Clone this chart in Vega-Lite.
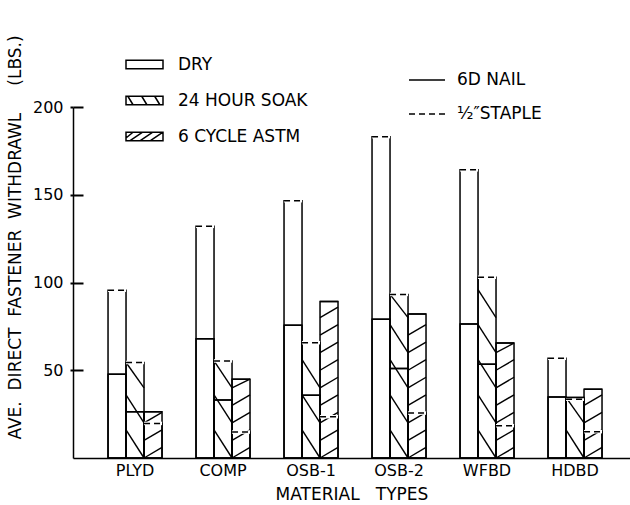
{
  "$schema": "https://vega.github.io/schema/vega-lite/v6.json",
  "width": 557,
  "height": 351,
  "autosize": "none",
  "padding": {"left": 73, "top": 107, "right": 0, "bottom": 47},
  "background": "white",
  "config": {
    "view": {"stroke": null},
    "font": "DejaVu Sans",
    "axis": {"labelColor": "black", "titleColor": "black", "domainColor": "black", "titleFontWeight": "normal", "labelFont": "DejaVu Sans", "titleFont": "DejaVu Sans"},
    "axisX": {"grid": false},
    "axisY": {"grid": true, "gridColor": "black", "gridWidth": 2, "gridDash": [10, 2000], "ticks": true, "tickColor": "black", "tickSize": 3, "tickWidth": 2},
    "legend": {"labelFont": "DejaVu Sans", "labelColor": "black"}
  },
  "datasets": {
    "bars": [
      {"m": "PLYD", "c": "DRY", "nail": 47.7, "staple": 95.6},
      {"m": "PLYD", "c": "24 HOUR SOAK", "nail": 26.3, "staple": 54.4},
      {"m": "PLYD", "c": "6 CYCLE ASTM", "nail": 26.3, "staple": 19.7},
      {"m": "COMP", "c": "DRY", "nail": 68, "staple": 132},
      {"m": "COMP", "c": "24 HOUR SOAK", "nail": 33, "staple": 55.3},
      {"m": "COMP", "c": "6 CYCLE ASTM", "nail": 44.9, "staple": 14.8},
      {"m": "OSB-1", "c": "DRY", "nail": 75.7, "staple": 146.6},
      {"m": "OSB-1", "c": "24 HOUR SOAK", "nail": 35.8, "staple": 65.7},
      {"m": "OSB-1", "c": "6 CYCLE ASTM", "nail": 89.2, "staple": 23.5},
      {"m": "OSB-2", "c": "DRY", "nail": 79, "staple": 183.1},
      {"m": "OSB-2", "c": "24 HOUR SOAK", "nail": 51, "staple": 93.2},
      {"m": "OSB-2", "c": "6 CYCLE ASTM", "nail": 82, "staple": 25.6},
      {"m": "WFBD", "c": "DRY", "nail": 76.3, "staple": 164.2},
      {"m": "WFBD", "c": "24 HOUR SOAK", "nail": 53.4, "staple": 103},
      {"m": "WFBD", "c": "6 CYCLE ASTM", "nail": 65.5, "staple": 18.4},
      {"m": "HDBD", "c": "DRY", "nail": 34.8, "staple": 56.8},
      {"m": "HDBD", "c": "24 HOUR SOAK", "nail": 34.5, "staple": 33.5},
      {"m": "HDBD", "c": "6 CYCLE ASTM", "nail": 39.2, "staple": 15}
    ],
    "edges": [
      {"c": "DRY", "l": "e0", "r": "e1"},
      {"c": "24 HOUR SOAK", "l": "e1", "r": "e2"},
      {"c": "6 CYCLE ASTM", "l": "e2", "r": "e3"}
    ],
    "hatch": [
      {"m": "PLYD", "k": "s0", "e1": 16, "e2": 0},
      {"m": "PLYD", "k": "s1", "e1": 36, "e2": 20},
      {"m": "PLYD", "k": "s2", "e1": 54.4, "e2": 40},
      {"m": "COMP", "k": "s0", "e1": 16, "e2": 0},
      {"m": "COMP", "k": "s1", "e1": 36, "e2": 20},
      {"m": "COMP", "k": "s2", "e1": 55.3, "e2": 40},
      {"m": "OSB-1", "k": "s0", "e1": 16, "e2": 0},
      {"m": "OSB-1", "k": "s1", "e1": 36, "e2": 20},
      {"m": "OSB-1", "k": "s2", "e1": 56, "e2": 40},
      {"m": "OSB-2", "k": "s0", "e1": 16, "e2": 0},
      {"m": "OSB-2", "k": "s1", "e1": 36, "e2": 20},
      {"m": "OSB-2", "k": "s2", "e1": 56, "e2": 40},
      {"m": "OSB-2", "k": "s3", "e1": 76, "e2": 60},
      {"m": "OSB-2", "k": "s4", "e1": 93.2, "e2": 80},
      {"m": "WFBD", "k": "s0", "e1": 16, "e2": 0},
      {"m": "WFBD", "k": "s1", "e1": 36, "e2": 20},
      {"m": "WFBD", "k": "s2", "e1": 56, "e2": 40},
      {"m": "WFBD", "k": "s3", "e1": 76, "e2": 60},
      {"m": "WFBD", "k": "s4", "e1": 96, "e2": 80},
      {"m": "HDBD", "k": "s0", "e1": 16, "e2": 0},
      {"m": "HDBD", "k": "s1", "e1": 34.5, "e2": 20},
      {"m": "PLYD", "k": "a0", "e2": 0, "e3": 6},
      {"m": "PLYD", "k": "a1", "e2": 10, "e3": 16},
      {"m": "PLYD", "k": "a2", "e2": 20, "e3": 26},
      {"m": "COMP", "k": "a0", "e2": 0, "e3": 6},
      {"m": "COMP", "k": "a1", "e2": 10, "e3": 16},
      {"m": "COMP", "k": "a2", "e2": 20, "e3": 26},
      {"m": "COMP", "k": "a3", "e2": 30, "e3": 36},
      {"m": "COMP", "k": "a4", "e2": 40, "e3": 44.9},
      {"m": "OSB-1", "k": "a0", "e2": 0, "e3": 6},
      {"m": "OSB-1", "k": "a1", "e2": 10, "e3": 16},
      {"m": "OSB-1", "k": "a2", "e2": 20, "e3": 26},
      {"m": "OSB-1", "k": "a3", "e2": 30, "e3": 36},
      {"m": "OSB-1", "k": "a4", "e2": 40, "e3": 46},
      {"m": "OSB-1", "k": "a5", "e2": 50, "e3": 56},
      {"m": "OSB-1", "k": "a6", "e2": 60, "e3": 66},
      {"m": "OSB-1", "k": "a7", "e2": 70, "e3": 76},
      {"m": "OSB-1", "k": "a8", "e2": 80, "e3": 86},
      {"m": "OSB-2", "k": "a0", "e2": 0, "e3": 6},
      {"m": "OSB-2", "k": "a1", "e2": 10, "e3": 16},
      {"m": "OSB-2", "k": "a2", "e2": 20, "e3": 26},
      {"m": "OSB-2", "k": "a3", "e2": 30, "e3": 36},
      {"m": "OSB-2", "k": "a4", "e2": 40, "e3": 46},
      {"m": "OSB-2", "k": "a5", "e2": 50, "e3": 56},
      {"m": "OSB-2", "k": "a6", "e2": 60, "e3": 66},
      {"m": "OSB-2", "k": "a7", "e2": 70, "e3": 76},
      {"m": "WFBD", "k": "a0", "e2": 0, "e3": 6},
      {"m": "WFBD", "k": "a1", "e2": 10, "e3": 16},
      {"m": "WFBD", "k": "a2", "e2": 20, "e3": 26},
      {"m": "WFBD", "k": "a3", "e2": 30, "e3": 36},
      {"m": "WFBD", "k": "a4", "e2": 40, "e3": 46},
      {"m": "WFBD", "k": "a5", "e2": 50, "e3": 56},
      {"m": "WFBD", "k": "a6", "e2": 60, "e3": 65.5},
      {"m": "HDBD", "k": "a0", "e2": 0, "e3": 6},
      {"m": "HDBD", "k": "a1", "e2": 10, "e3": 16},
      {"m": "HDBD", "k": "a2", "e2": 20, "e3": 26},
      {"m": "HDBD", "k": "a3", "e2": 30, "e3": 36}
    ]
  },
  "layer": [
    {
      "data": {"name": "bars"},
      "transform": [{"fold": ["nail", "staple"], "as": ["fastener", "v"]}],
      "mark": {"type": "bar", "fill": "white", "fillOpacity": 0, "stroke": "black", "strokeWidth": 1.5},
      "encoding": {
        "x": {
          "field": "m", "type": "nominal", "title": "MATERIAL\u00a0\u00a0\u00a0TYPES",
          "scale": {"domain": ["PLYD", "COMP", "OSB-1", "OSB-2", "WFBD", "HDBD"], "paddingInner": 0.3864, "paddingOuter": 0.358, "align": 0.556},
          "axis": {"labelAngle": 0, "labelFontSize": 16, "labelPadding": 4, "ticks": false, "domainWidth": 1.5, "titleFontSize": 17, "titlePadding": 8}
        },
        "xOffset": {"field": "c", "type": "nominal", "scale": {"domain": ["DRY", "24 HOUR SOAK", "6 CYCLE ASTM"], "paddingInner": 0, "paddingOuter": 0}},
        "y": {
          "field": "v", "type": "quantitative", "stack": null,
          "title": "AVE.\u00a0\u00a0DIRECT\u00a0\u00a0FASTENER\u00a0\u00a0WITHDRAWL\u00a0\u00a0\u00a0\u00a0\u00a0(LBS.)",
          "scale": {"domain": [0, 200], "nice": false},
          "axis": {"values": [50, 100, 150, 200], "labelFontSize": 16, "domainWidth": 1.5, "labelPadding": 7, "titleFontSize": 17, "titleX": -58, "titleY": 130, "titleAngle": 270, "titleAlign": "center", "titleBaseline": "middle"}
        }
      }
    },
    {
      "data": {"name": "bars"},
      "mark": {"type": "point", "size": 0},
      "encoding": {
        "x": {"field": "m", "type": "nominal", "title": "MATERIAL\u00a0\u00a0\u00a0TYPES"},
        "xOffset": {"field": "c", "type": "nominal", "scale": {"domain": ["DRY", "24 HOUR SOAK", "6 CYCLE ASTM"], "paddingInner": 0, "paddingOuter": 0}},
        "y": {"field": "nail", "type": "quantitative", "title": "AVE.\u00a0\u00a0DIRECT\u00a0\u00a0FASTENER\u00a0\u00a0WITHDRAWL\u00a0\u00a0\u00a0\u00a0\u00a0(LBS.)", "scale": {"domain": [0, 200], "nice": false}},
        "shape": {
          "field": "c", "type": "nominal",
          "scale": {
            "domain": ["DRY", "24 HOUR SOAK", "6 CYCLE ASTM"],
            "range": [
              "M-1,-0.23H1V0.23H-1Z",
              "M-1,-0.23H1V0.23H-1Z M-0.9,-0.23L-0.62,0.23 M-0.15,-0.23L0.13,0.23 M0.55,-0.23L0.83,0.23",
              "M-1,-0.23H1V0.23H-1Z M-1,0.08L-0.62,-0.23 M-0.8,0.23L-0.1,-0.23 M-0.25,0.23L0.45,-0.23 M0.3,0.23L1,-0.23"
            ]
          },
          "legend": {"orient": "none", "legendX": 52, "legendY": -62, "title": null, "padding": 0, "symbolSize": 1369, "symbolFillColor": "white", "symbolStrokeColor": "black", "symbolStrokeWidth": 1.5, "symbolOpacity": 1, "labelFontSize": 17, "labelOffset": 14, "rowPadding": 8}
        }
      }
    },
    {
      "data": {"name": "hatch"},
      "transform": [
        {"fold": ["e1", "e2", "e3"], "as": ["edge", "hy"]},
        {"filter": "isValid(datum.hy)"}
      ],
      "mark": {"type": "line", "stroke": "black", "strokeWidth": 1.4},
      "encoding": {
        "x": {"field": "m", "type": "nominal", "bandPosition": 0, "title": "MATERIAL\u00a0\u00a0\u00a0TYPES"},
        "xOffset": {"field": "edge", "type": "nominal", "scale": {"type": "point", "domain": ["e0", "e1", "e2", "e3"], "padding": 0}},
        "y": {"field": "hy", "type": "quantitative", "title": "AVE.\u00a0\u00a0DIRECT\u00a0\u00a0FASTENER\u00a0\u00a0WITHDRAWL\u00a0\u00a0\u00a0\u00a0\u00a0(LBS.)", "scale": {"domain": [0, 200], "nice": false}},
        "detail": [{"field": "m"}, {"field": "k"}]
      }
    },
    {
      "data": {"name": "bars"},
      "transform": [
        {"fold": ["nail", "staple"], "as": ["fastener", "v"]},
        {"filter": "datum.fastener == 'staple'"},
        {"lookup": "c", "from": {"data": {"name": "edges"}, "key": "c", "fields": ["l", "r"]}},
        {"fold": ["l", "r"], "as": ["side", "edge"]}
      ],
      "mark": {"type": "line", "stroke": "white", "strokeWidth": 3.5},
      "encoding": {
        "x": {"field": "m", "type": "nominal", "bandPosition": 0, "title": "MATERIAL\u00a0\u00a0\u00a0TYPES"},
        "xOffset": {"field": "edge", "type": "nominal", "scale": {"type": "point", "domain": ["e0", "e1", "e2", "e3"], "padding": 0}},
        "y": {"field": "v", "type": "quantitative", "title": "AVE.\u00a0\u00a0DIRECT\u00a0\u00a0FASTENER\u00a0\u00a0WITHDRAWL\u00a0\u00a0\u00a0\u00a0\u00a0(LBS.)", "scale": {"domain": [0, 200], "nice": false}},
        "detail": [{"field": "m"}, {"field": "c"}]
      }
    },
    {
      "data": {"name": "bars"},
      "transform": [
        {"fold": ["nail", "staple"], "as": ["fastener", "v"]},
        {"lookup": "c", "from": {"data": {"name": "edges"}, "key": "c", "fields": ["l", "r"]}},
        {"fold": ["l", "r"], "as": ["side", "edge"]}
      ],
      "mark": {"type": "line", "stroke": "black", "strokeWidth": 1.5},
      "encoding": {
        "x": {"field": "m", "type": "nominal", "bandPosition": 0, "title": "MATERIAL\u00a0\u00a0\u00a0TYPES"},
        "xOffset": {"field": "edge", "type": "nominal", "scale": {"type": "point", "domain": ["e0", "e1", "e2", "e3"], "padding": 0}},
        "y": {"field": "v", "type": "quantitative", "title": "AVE.\u00a0\u00a0DIRECT\u00a0\u00a0FASTENER\u00a0\u00a0WITHDRAWL\u00a0\u00a0\u00a0\u00a0\u00a0(LBS.)", "scale": {"domain": [0, 200], "nice": false}},
        "detail": [{"field": "m"}, {"field": "c"}],
        "strokeDash": {
          "field": "fastener", "type": "nominal",
          "scale": {"domain": ["nail", "staple"], "range": [[1, 0], [6, 4]]},
          "legend": {"orient": "none", "legendX": 335, "legendY": -46, "title": null, "padding": 0, "symbolType": "stroke", "symbolSize": 1296, "symbolStrokeColor": "black", "symbolStrokeWidth": 1.5, "labelFontSize": 17, "labelOffset": 11, "rowPadding": 7, "labelExpr": "datum.label == 'nail' ? '6D NAIL' : '½″STAPLE'"}
        }
      }
    }
  ],
  "resolve": {"scale": {"xOffset": "independent"}}
}
